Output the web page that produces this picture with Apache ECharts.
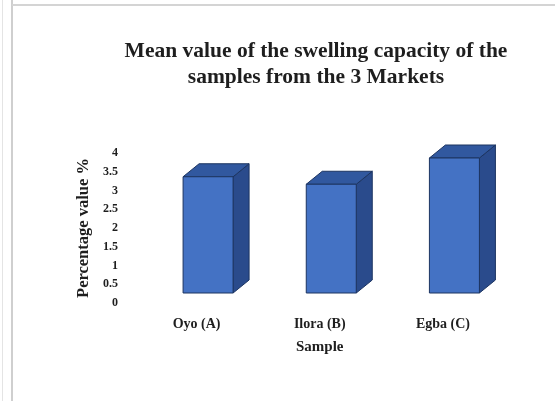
<!DOCTYPE html>
<html>
<head>
<meta charset="utf-8">
<script src="https://cdn.jsdelivr.net/npm/echarts@6/dist/echarts.min.js"></script>
<style>
  html, body { margin: 0; padding: 0; background: #fff; }
  #chart { width: 555px; height: 401px; }
</style>
</head>
<body>
<div id="chart"></div>
<script>
// Swelling capacity means per market
const categories = ['Oyo (A)', 'Ilora (B)', 'Egba (C)'];
const swellingValues = [3.1, 2.9, 3.6];

const chart = echarts.init(document.getElementById('chart'), null, { renderer: 'canvas' });

const serif = '"Liberation Serif", "DejaVu Serif", serif';
const textColor = '#1e1e1e';

// Oblique box geometry: front face width, depth vector, floor offset of the bar row
const BOX = { width: 50, dx: 16, dy: -13, ox: 11.5, oy: -10 };

function renderBox(params, api) {
  const idx = api.value(0);
  const base = api.coord([idx, 0]);
  const top = api.coord([idx, api.value(1)]);
  const x0 = base[0] + BOX.ox - BOX.width / 2;
  const x1 = x0 + BOX.width;
  const yb = base[1] + BOX.oy;
  const yt = top[1] + BOX.oy;
  const edge = { stroke: '#1c3461', lineWidth: 1 };
  return {
    type: 'group',
    children: [
      {
        type: 'polygon',
        shape: { points: [[x1, yb], [x1 + BOX.dx, yb + BOX.dy], [x1 + BOX.dx, yt + BOX.dy], [x1, yt]] },
        style: Object.assign({ fill: '#2a4b8c' }, edge)
      },
      {
        type: 'polygon',
        shape: { points: [[x0, yt], [x0 + BOX.dx, yt + BOX.dy], [x1 + BOX.dx, yt + BOX.dy], [x1, yt]] },
        style: Object.assign({ fill: '#31589f' }, edge)
      },
      {
        type: 'rect',
        shape: { x: x0, y: yt, width: BOX.width, height: yb - yt },
        style: Object.assign({ fill: '#4472c4' }, edge)
      }
    ]
  };
}

chart.setOption({
  backgroundColor: '#ffffff',
  animation: false,
  title: {
    text: 'Mean value of the swelling capacity of the\nsamples from the 3 Markets',
    left: 311,
    top: 33,
    textAlign: 'center',
    textStyle: {
      fontFamily: serif,
      fontWeight: 'bold',
      fontSize: 21.5,
      lineHeight: 26,
      color: textColor
    }
  },
  graphic: [
    { type: 'line', shape: { x1: 2.5, y1: 0, x2: 2.5, y2: 401 }, style: { stroke: '#e4e4e4', lineWidth: 1 } },
    { type: 'line', shape: { x1: 12, y1: 0, x2: 12, y2: 401 }, style: { stroke: '#cfcfcf', lineWidth: 2 } },
    { type: 'line', shape: { x1: 12, y1: 5, x2: 555, y2: 5 }, style: { stroke: '#d4d4d4', lineWidth: 2 } }
  ],
  grid: {
    left: 135,
    right: 50.5,
    top: 153,
    bottom: 98,
    containLabel: false
  },
  xAxis: {
    type: 'category',
    data: categories,
    name: 'Sample',
    nameLocation: 'middle',
    nameGap: 37,
    nameTextStyle: {
      fontFamily: serif,
      fontWeight: 'bold',
      fontSize: 15,
      color: textColor
    },
    axisLine: { show: false },
    axisTick: { show: false },
    axisLabel: {
      margin: 14,
      fontFamily: serif,
      fontWeight: 'bold',
      fontSize: 14,
      color: textColor
    },
    splitLine: { show: false }
  },
  yAxis: {
    type: 'value',
    min: 0,
    max: 4,
    interval: 0.5,
    name: 'Percentage value %',
    nameLocation: 'middle',
    nameRotate: 90,
    nameGap: 38,
    nameTextStyle: {
      fontFamily: serif,
      fontWeight: 'bold',
      fontSize: 16.5,
      color: textColor
    },
    axisLine: { show: false },
    axisTick: { show: false },
    axisLabel: {
      margin: 17,
      fontFamily: serif,
      fontWeight: 'bold',
      fontSize: 12,
      color: textColor
    },
    splitLine: { show: false }
  },
  series: [
    {
      type: 'custom',
      renderItem: renderBox,
      encode: { x: 0, y: 1 },
      data: swellingValues.map((v, i) => [i, v])
    }
  ]
});
</script>
</body>
</html>
